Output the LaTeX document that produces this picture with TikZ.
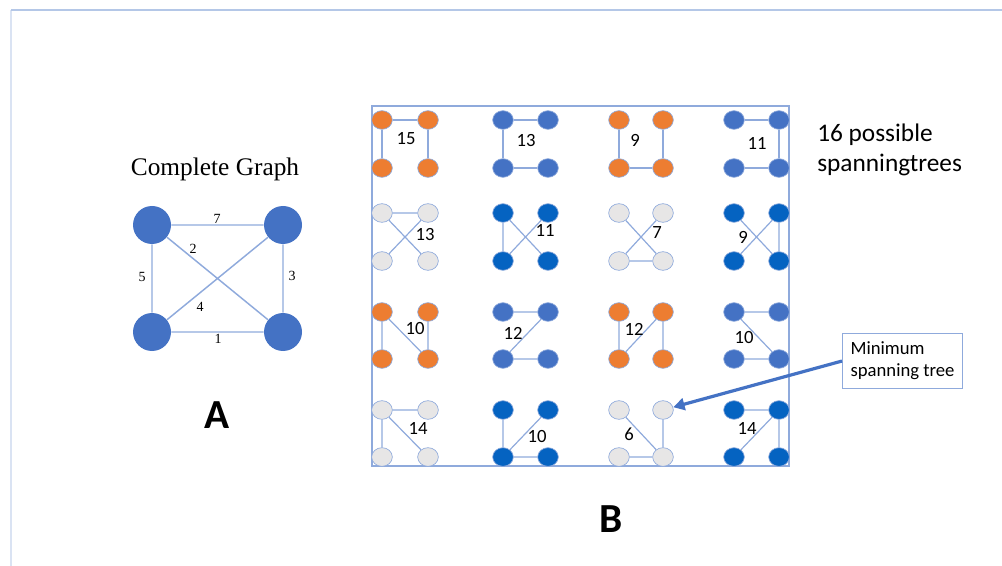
\documentclass[tikz,border=0pt]{standalone}
\usepackage{fontspec}
\setmainfont{Carlito}
\newfontfamily\timesfont{Liberation Serif}
\usetikzlibrary{arrows.meta,shapes.geometric}
\definecolor{nodeblue}{HTML}{4472C4}
\definecolor{deepblue}{HTML}{0563C1}
\definecolor{treeorange}{HTML}{ED7D31}
\definecolor{palegray}{HTML}{E7E6E6}
\definecolor{edgeblue}{HTML}{8FAADC}
\definecolor{framelight}{HTML}{B4C7E7}
\definecolor{framefaint}{HTML}{DAE3F3}

% four vertices of one small spanning-tree sketch: id, x-left, x-right, y-top, y-bottom, fill style
\newcommand{\sgnodes}[6]{%
  \node[sm,#6] (#1tl) at (#2,#4) {};
  \node[sm,#6] (#1tr) at (#3,#4) {};
  \node[sm,#6] (#1bl) at (#2,#5) {};
  \node[sm,#6] (#1br) at (#3,#5) {};}

\begin{document}
\begin{tikzpicture}[x=0.75pt,y=-0.75pt,
  big/.style={circle,fill=nodeblue,minimum size=28.5pt,inner sep=0pt},
  cgedge/.style={draw=edgeblue,line width=1.1pt},
  cglabel/.style={font=\timesfont\fontsize{10.5}{12}\selectfont,inner sep=0pt},
  sm/.style={ellipse,minimum width=15.5pt,minimum height=14pt,inner sep=0pt,draw=edgeblue,line width=0.5pt},
  orangev/.style={fill=treeorange},
  bluev/.style={fill=nodeblue},
  deepv/.style={fill=deepblue},
  grayv/.style={fill=palegray},
  tree/.style={draw=edgeblue,line width=0.9pt},
  wlabel/.style={font=\fontsize{14}{16}\selectfont,inner sep=0pt},
  biglabel/.style={font=\bfseries\fontsize{31}{36}\selectfont,inner sep=0pt},
  pointer/.style={draw=nodeblue,line width=2.4pt,-{Triangle[length=8.5pt,width=9pt]}}
]
\useasboundingbox (0,0) rectangle (1002,566);

% page frame
\draw[framefaint,line width=0.9pt] (11,566) -- (11,10);
\draw[framelight,line width=1.2pt] (11,10) -- (1002,10);

% ---------- A: complete graph ----------
\node[font=\timesfont\fontsize{19}{22}\selectfont,inner sep=0pt] (cgtitle) at (215,169) {Complete Graph};
\node[big] (ka) at (152,225) {};
\node[big] (kb) at (283,225) {};
\node[big] (kc) at (152,332) {};
\node[big] (kd) at (283,332) {};
\draw[cgedge] (ka) -- (kb) (ka) -- (kc) (ka) -- (kd) (kb) -- (kc) (kb) -- (kd) (kc) -- (kd);
\node[cglabel] (w7) at (217,219) {7};
\node[cglabel] (w2) at (193,249) {2};
\node[cglabel] (w5) at (142,277) {5};
\node[cglabel] (w3) at (292,276) {3};
\node[cglabel] (w4) at (200,307) {4};
\node[cglabel] (w1) at (218,339) {1};
\node[biglabel] (labA) at (217,415) {A};

% ---------- B: the sixteen spanning trees ----------
\draw[edgeblue,line width=1.1pt] (372,106) rectangle (789,466);

% row 1
\sgnodes{a}{382}{428}{120}{168}{orangev}
\sgnodes{b}{503}{548}{120}{168}{bluev}
\sgnodes{c}{619}{663}{120}{168}{orangev}
\sgnodes{d}{734}{779}{120}{168}{bluev}
\draw[tree] (atl) -- (atr) (atl) -- (abl) (atr) -- (abr);
\draw[tree] (btl) -- (btr) (btl) -- (bbl) (bbl) -- (bbr);
\draw[tree] (ctl) -- (cbl) (ctr) -- (cbr) (cbl) -- (cbr);
\draw[tree] (dtl) -- (dtr) (dtr) -- (dbr) (dbl) -- (dbr);
\node[wlabel] (la) at (406,139) {15};
\node[wlabel] (lb) at (526,141) {13};
\node[wlabel] (lc) at (635,140) {9};
\node[wlabel] (ld) at (757,143) {11};

% row 2
\sgnodes{e}{382}{428}{213}{261}{grayv}
\sgnodes{f}{503}{548}{213}{261}{deepv}
\sgnodes{g}{619}{663}{213}{261}{grayv}
\sgnodes{h}{734}{779}{213}{261}{deepv}
\draw[tree] (etl) -- (etr) (etl) -- (ebr) (etr) -- (ebl);
\draw[tree] (ftl) -- (fbl) (ftl) -- (fbr) (ftr) -- (fbl);
\draw[tree] (gtl) -- (gbr) (gtr) -- (gbl) (gbl) -- (gbr);
\draw[tree] (htr) -- (hbr) (htl) -- (hbr) (htr) -- (hbl);
\node[wlabel] (le) at (425,235) {13};
\node[wlabel] (lf) at (545,230) {11};
\node[wlabel] (lg) at (657,233) {7};
\node[wlabel] (lh) at (743,237) {9};

% row 3
\sgnodes{i}{382}{428}{312}{359}{orangev}
\sgnodes{j}{503}{548}{312}{359}{bluev}
\sgnodes{k}{619}{663}{312}{359}{orangev}
\sgnodes{m}{734}{779}{312}{359}{bluev}
\draw[tree] (itl) -- (ibl) (itl) -- (ibr) (itr) -- (ibr);
\draw[tree] (jtl) -- (jtr) (jtr) -- (jbl) (jbl) -- (jbr);
\draw[tree] (ktl) -- (kbl) (ktr) -- (kbl) (ktr) -- (kbr);
\draw[tree] (mtl) -- (mtr) (mtl) -- (mbr) (mbl) -- (mbr);
\node[wlabel] (li) at (415,329) {10};
\node[wlabel] (lj) at (513,333) {12};
\node[wlabel] (lk) at (634,329) {12};
\node[wlabel] (lm) at (744,338) {10};

% row 4
\sgnodes{n}{382}{428}{410}{457}{grayv}
\sgnodes{p}{503}{548}{410}{457}{deepv}
\sgnodes{q}{619}{663}{410}{457}{grayv}
\sgnodes{r}{734}{779}{410}{457}{deepv}
\draw[tree] (ntl) -- (ntr) (ntl) -- (nbl) (ntl) -- (nbr);
\draw[tree] (ptl) -- (pbl) (pbl) -- (ptr) (pbl) -- (pbr);
\draw[tree] (qtl) -- (qbr) (qtr) -- (qbr) (qbl) -- (qbr);
\draw[tree] (rtl) -- (rtr) (rtr) -- (rbr) (rtr) -- (rbl);
\node[wlabel] (ln) at (418,428) {14};
\node[wlabel] (lp) at (537,437) {10};
\node[wlabel] (lq) at (629,434) {6};
\node[wlabel] (lr) at (747,428) {14};

\node[biglabel] (labB) at (611,519) {B};

% annotations
\node[anchor=north west,align=left,inner sep=0pt,font=\fontsize{19}{22.5}\selectfont] (count) at (817,124) {16 possible\\spanningtrees};
\node[draw=edgeblue,line width=0.8pt,anchor=north west,align=left,minimum width=90pt,
      minimum height=41.25pt,inner sep=0pt,font=\fontsize{14}{16.5}\selectfont] (mst) at (842,333) {Minimum\\spanning tree};
\draw[pointer] (mst.west) -- (qtr);
\end{tikzpicture}
\end{document}
